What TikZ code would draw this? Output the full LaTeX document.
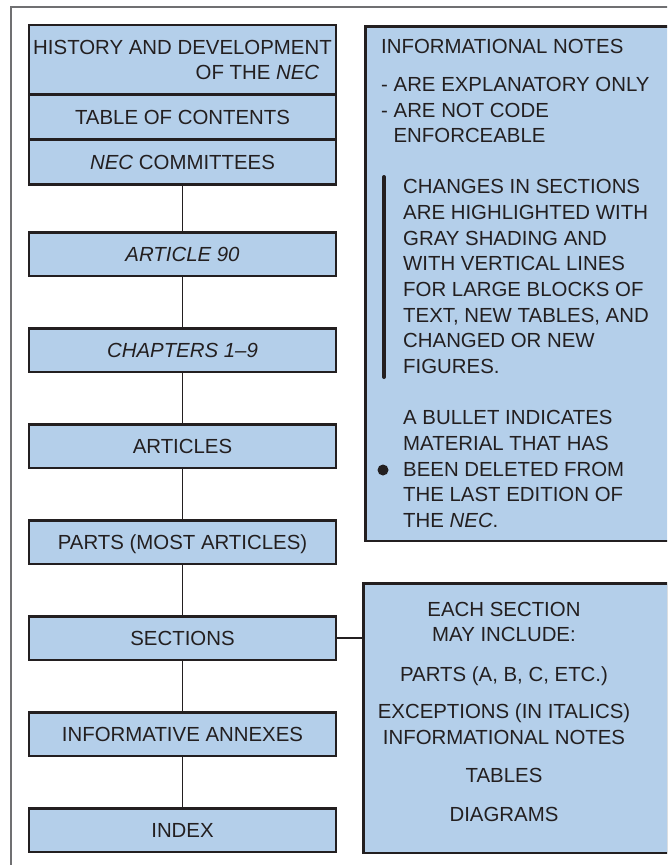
\documentclass[tikz,border=0pt]{standalone}
\usepackage{fontspec}
\setmainfont{Liberation Sans}
\definecolor{boxfill}{RGB}{180,207,234}
\definecolor{ink}{RGB}{35,31,32}
\definecolor{framegray}{RGB}{112,112,114}
\begin{document}
\begin{tikzpicture}[x=1pt,y=-1pt,
  every node/.style={font=\fontsize{20.4}{25.7}\selectfont, text=ink},
  boxbase/.style={draw=ink, line width=2.5pt, fill=boxfill, minimum width=307pt,
    inner sep=0pt, align=center},
  level/.style={boxbase, minimum height=43.5pt, text height=14.6pt, text depth=0pt},
  link/.style={draw=ink, line width=1.8pt},
  panel/.style={draw=ink, line width=2.5pt, fill=boxfill, anchor=north west, inner sep=0pt},
  note/.style={inner sep=0pt, align=left, anchor=base west},
]
\clip (0,0) rectangle (667,865);

% outer frame (top and left edges)
\draw[framegray, line width=2pt] (11,880) -- (11,7) -- (680,7);

% front matter stack
\node[boxbase, minimum height=69.3pt] (hist) at (182.5,59.85)
  {HISTORY AND DEVELOPMENT\\\hspace*{150pt}OF THE \textit{NEC}};
\node[level, minimum height=45.2pt] (toc) at (182.5,117.1) {TABLE OF CONTENTS};
\node[level, minimum height=44.8pt] (nec) at (182.5,162.1) {\textit{NEC} COMMITTEES};

% main hierarchy
\node[level] (a90)   at (182.5,254) {\textit{ARTICLE 90}};
\node[level] (chap)  at (182.5,350) {\textit{CHAPTERS 1–9}};
\node[level] (arts)  at (182.5,446) {ARTICLES};
\node[level] (parts) at (182.5,542) {PARTS (MOST ARTICLES)};
\node[level] (secs)  at (182.5,638) {SECTIONS};
\node[level] (annex) at (182.5,734) {INFORMATIVE ANNEXES};
\node[level] (index) at (182.5,830) {INDEX};

\draw[link] (nec)   -- (a90);
\draw[link] (a90)   -- (chap);
\draw[link] (chap)  -- (arts);
\draw[link] (arts)  -- (parts);
\draw[link] (parts) -- (secs);
\draw[link] (secs)  -- (annex);
\draw[link] (annex) -- (index);

% notes panel (base anchors sit on the last line of each block)
\node[panel, minimum width=310pt, minimum height=514.5pt] (info) at (364.25,25.25) {};
\node[note] (infohead) at (381,142.9)
  {INFORMATIONAL NOTES\\[12.6pt]- ARE EXPLANATORY ONLY\\- ARE NOT CODE\\\hspace*{12.4pt}ENFORCEABLE};
\node[note] (changes) at (403,373.5)
  {CHANGES IN SECTIONS\\ARE HIGHLIGHTED WITH\\GRAY SHADING AND\\WITH VERTICAL LINES\\FOR LARGE BLOCKS OF\\TEXT, NEW TABLES, AND\\CHANGED OR NEW\\FIGURES.};
\draw[ink, line width=4pt, line cap=round] (384,177) -- (384,377);
\node[note] (bullet) at (403,527.5)
  {A BULLET INDICATES\\MATERIAL THAT HAS\\BEEN DELETED FROM\\THE LAST EDITION OF\\THE \textit{NEC}.};
\fill[ink] (383,470) circle[radius=5.5pt];

% section contents panel
\node[panel, minimum width=304.75pt, minimum height=269.5pt] (incl) at (362.25,582.25) {};
\node[inner sep=0pt, align=center, anchor=base] (incltext) at (504,821.3)
  {EACH SECTION\\MAY INCLUDE:\\[14pt]PARTS (A, B, C, ETC.)\\[11.7pt]EXCEPTIONS (IN ITALICS)\\INFORMATIONAL NOTES\\[12.4pt]TABLES\\[13pt]DIAGRAMS};
\draw[link] (secs.east) -- (secs.east -| incl.west);
\end{tikzpicture}
\end{document}
